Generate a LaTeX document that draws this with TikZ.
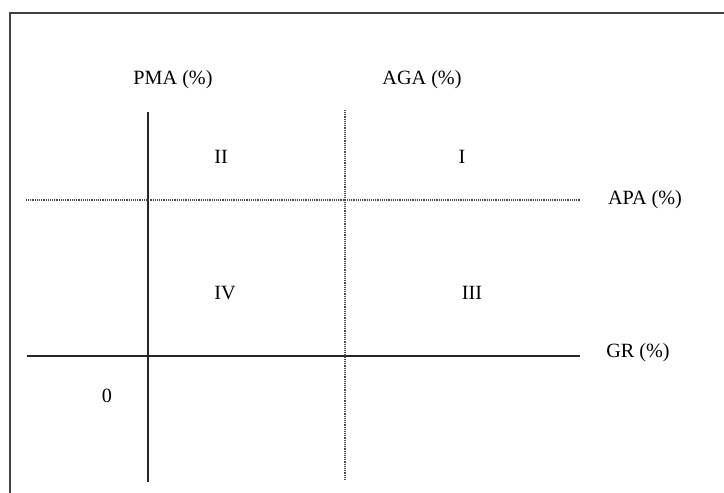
\documentclass[tikz,border=0pt]{standalone}
\usepackage{fontspec}
\setmainfont{Liberation Serif}
\usepackage{tikz}

\begin{document}
\begin{tikzpicture}[x=0.02cm,y=-0.02cm,
  axis/.style={line width=0.8pt,color=black!85},
  guide/.style={line width=0.6pt,color=black!70,dash pattern=on 0.35pt off 0.7pt},
  lbl/.style={font=\fontsize{11.5}{13}\selectfont,inner sep=1pt}]

\useasboundingbox (0,0) rectangle (724,493);

% frame (only top and left show)
\draw[line width=1.1pt,color=black!75] (10,493)--(10,13)--(724,13);

\coordinate (p0) at (148,112);
\coordinate (p1) at (148,482);
\coordinate (g0) at (345,110);
\coordinate (g1) at (345,480);
\coordinate (h0) at (26,200);
\coordinate (h1) at (581,200);
\coordinate (r0) at (27,356);
\coordinate (r1) at (580,356);

\draw[axis] (p0)--(p1);
\draw[axis] (r0)--(r1);
\draw[guide] (g0)--(g1);
\draw[guide] (h0)--(h1);

\node[lbl] (pma) at (173,80) {PMA (\%)};
\node[lbl] (aga) at (422,80) {AGA (\%)};
\node[lbl] (apa) at (645,200) {APA (\%)};
\node[lbl] (gr) at (638,353) {GR (\%)};
\node[lbl] (zero) at (107,396) {0};

\node[lbl] (q2) at (221,157) {II};
\node[lbl] (q1) at (462,157) {I};
\node[lbl] (q4) at (225,293) {IV};
\node[lbl] (q3) at (472,293) {III};
\end{tikzpicture}
\end{document}
